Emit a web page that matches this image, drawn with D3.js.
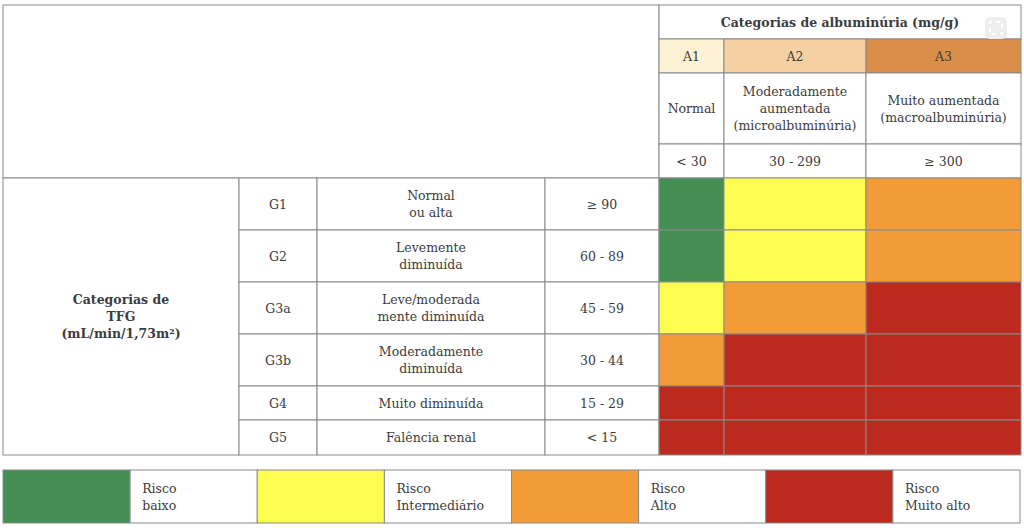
<!DOCTYPE html>
<html><head><meta charset="utf-8">
<script src="https://cdn.jsdelivr.net/npm/d3@7"></script>
<style>body{margin:0;background:#fff}text{font-family:"DejaVu Serif","Liberation Serif",serif;fill:#3c3c3c;font-size:12.5px}</style>
</head><body>
<script>
// dados
const albCats = ["A1", "A2", "A3"];
const albDesc = [["Normal"], ["Moderadamente", "aumentada", "(microalbuminúria)"], ["Muito aumentada", "(macroalbuminúria)"]];
const albRange = ["< 30", "30 - 299", "≥ 300"];
const gfrCats = ["G1", "G2", "G3a", "G3b", "G4", "G5"];
const gfrDesc = [["Normal", "ou alta"], ["Levemente", "diminuída"], ["Leve/moderada", "mente diminuída"], ["Moderadamente", "diminuída"], ["Muito diminuída"], ["Falência renal"]];
const gfrRange = ["≥ 90", "60 - 89", "45 - 59", "30 - 44", "15 - 29", "< 15"];
const risk = [[0, 1, 2], [0, 1, 2], [1, 2, 3], [2, 3, 3], [3, 3, 3], [3, 3, 3]];
const riskLabels = [["Risco", "baixo"], ["Risco", "Intermediário"], ["Risco", "Alto"], ["Risco", "Muito alto"]];

const color = d3.scaleOrdinal().domain([0, 1, 2, 3]).range(["#458f55", "#fdfd51", "#f19c38", "#bb2a1f"]);
const headColor = d3.scaleOrdinal().domain(albCats).range(["#fdf2d3", "#f5d0a3", "#d98f4a"]);

const svg = d3.select("body").append("svg").attr("width", 1024).attr("height", 528);
const stroke = "#8a8a8a";

// layout
const colX = [3, 239, 317, 545, 659, 724, 866, 1021];
const albX = d3.scaleOrdinal().domain(albCats).range([659, 724, 866]);
const albW = d3.scaleOrdinal().domain(albCats).range([65, 142, 155]);
const headY = [5, 39, 73, 144, 178];
const rowY = d3.scaleOrdinal().domain(gfrCats).range([178, 230, 282, 334, 386, 420]);
const rowH = d3.scaleOrdinal().domain(gfrCats).range([52, 52, 52, 52, 34, 35]);

function cell(x, y, w, h, fill) {
    svg.append("rect").attr("x", x).attr("y", y).attr("width", w).attr("height", h)
        .attr("fill", fill || "#fff").attr("stroke", stroke).attr("stroke-width", 1);
}
function label(x, y, lines, opts) {
    opts = opts || {};
    const lh = 17;
    const t = svg.append("text").attr("x", x).attr("text-anchor", opts.anchor || "middle")
        .attr("font-weight", opts.bold ? "bold" : null);
    lines.forEach((l, i) => t.append("tspan").attr("x", x)
        .attr("y", y + (i - (lines.length - 1) / 2) * lh + 4.5).text(l));
}

// cabeçalho
cell(3, 5, 656, 173);
cell(659, 5, 362, 34);
label(840, 22, ["Categorias de albuminúria (mg/g)"], { bold: true });
albCats.forEach((c, i) => {
    const x = albX(c), w = albW(c);
    cell(x, 39, w, 34, headColor(c));
    label(x + w / 2, 56, [c]);
    cell(x, 73, w, 71);
    label(x + w / 2, 108.5, albDesc[i]);
    cell(x, 144, w, 34);
    label(x + w / 2, 161, [albRange[i]]);
});

// corpo
cell(3, 178, 236, 277);
label(121, 316, ["Categorias de", "TFG", "(mL/min/1,73m²)"], { bold: true });
gfrCats.forEach((g, i) => {
    const y = rowY(g), h = rowH(g);
    cell(239, y, 78, h); label(278, y + h / 2, [g]);
    cell(317, y, 228, h); label(431, y + h / 2, gfrDesc[i]);
    cell(545, y, 114, h); label(602, y + h / 2, [gfrRange[i]]);
    albCats.forEach((c, j) => cell(albX(c), y, albW(c), h, color(risk[i][j])));
});

// legenda
const legX = d3.scaleBand().domain(d3.range(4)).range([3, 1020]);
riskLabels.forEach((r, i) => {
    const x = legX(i), w = legX.bandwidth() / 2;
    cell(x, 470, w, 53, color(i));
    cell(x + w, 470, w, 53);
    label(x + w + 12, 496.5, r, { anchor: "start" });
});

// ícone
svg.append("rect").attr("x", 985).attr("y", 17).attr("width", 22).attr("height", 22).attr("rx", 5).attr("fill", "#eee");
svg.append("rect").attr("x", 990).attr("y", 22).attr("width", 12).attr("height", 12).attr("fill", "none")
    .attr("stroke", "#fff").attr("stroke-width", 2).attr("stroke-dasharray", "4 4").attr("stroke-dashoffset", 2);
</script>
</body></html>
